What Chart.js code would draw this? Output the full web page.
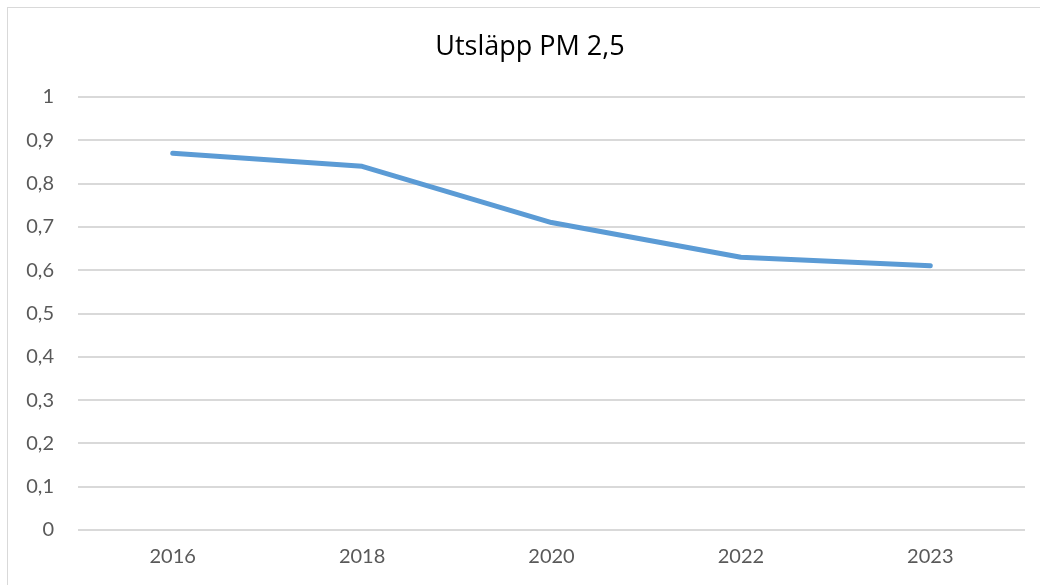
<!DOCTYPE html>
<html>
<head>
<meta charset="utf-8">
<script src="https://cdn.jsdelivr.net/npm/chart.js@4"></script>
<style>
  html, body { margin: 0; padding: 0; background: #fff; overflow: hidden; }
  #frame { position: absolute; left: 7px; top: 7px; width: 1040px; height: 585px; border: 1px solid #d9d9d9; }
  #wrap { position: absolute; left: 0; top: 0; width: 1040px; height: 585px; }
</style>
</head>
<body>
<div id="frame"></div>
<div id="wrap"><canvas id="pmChart"></canvas></div>
<script>
// Utsläpp PM 2,5 per år
const chartTitle = 'Utsläpp PM 2,5';
const years = ["2016", "2018", "2020", "2022", "2023"];
const emissions = [0.87, 0.84, 0.71, 0.63, 0.61];

// title is centred on the outer frame, not on the canvas, so draw it ourselves
const titlePlugin = {
    id: 'frameTitle',
    afterDraw(chart) {
        const c = chart.ctx;
        c.save();
        c.font = '27px "Open Sans"';
        c.fillStyle = '#000';
        c.textAlign = 'center';
        c.textBaseline = 'middle';
        c.fillText(chartTitle, 530, 47);
        c.restore();
    }
};

const ctx = document.getElementById('pmChart').getContext('2d');
new Chart(ctx, {
    type: 'line',
    data: {
        labels: years,
        datasets: [{
            label: chartTitle,
            data: emissions,
            borderColor: '#5b9bd5',
            borderWidth: 5,
            pointRadius: 0,
            tension: 0,
            borderCapStyle: 'round',
            borderJoinStyle: 'round'
        }]
    },
    options: {
        responsive: true,
        maintainAspectRatio: false,
        animation: false,
        layout: { padding: { top: 97, left: 0, right: 15, bottom: 1 } },
        plugins: {
            legend: { display: false },
            tooltip: { enabled: false },
            title: { display: false }
        },
        scales: {
            x: {
                offset: true,
                grid: { display: false, drawTicks: false },
                border: { display: false },
                ticks: { color: '#595959', padding: 15, font: { family: 'Lato', size: 20 } }
            },
            y: {
                min: 0,
                max: 1,
                afterFit: (scale) => { scale.width = 78; },
                grid: { color: '#d9d9d9', lineWidth: 2, drawTicks: false },
                border: { display: false },
                ticks: {
                    stepSize: 0.1,
                    padding: 24,
                    color: '#595959',
                    font: { family: 'Lato', size: 20 },
                    callback: (v) => (Math.round(v * 10) / 10).toString().replace('.', ',')
                }
            }
        }
    },
    plugins: [titlePlugin]
});
</script>
</body>
</html>
